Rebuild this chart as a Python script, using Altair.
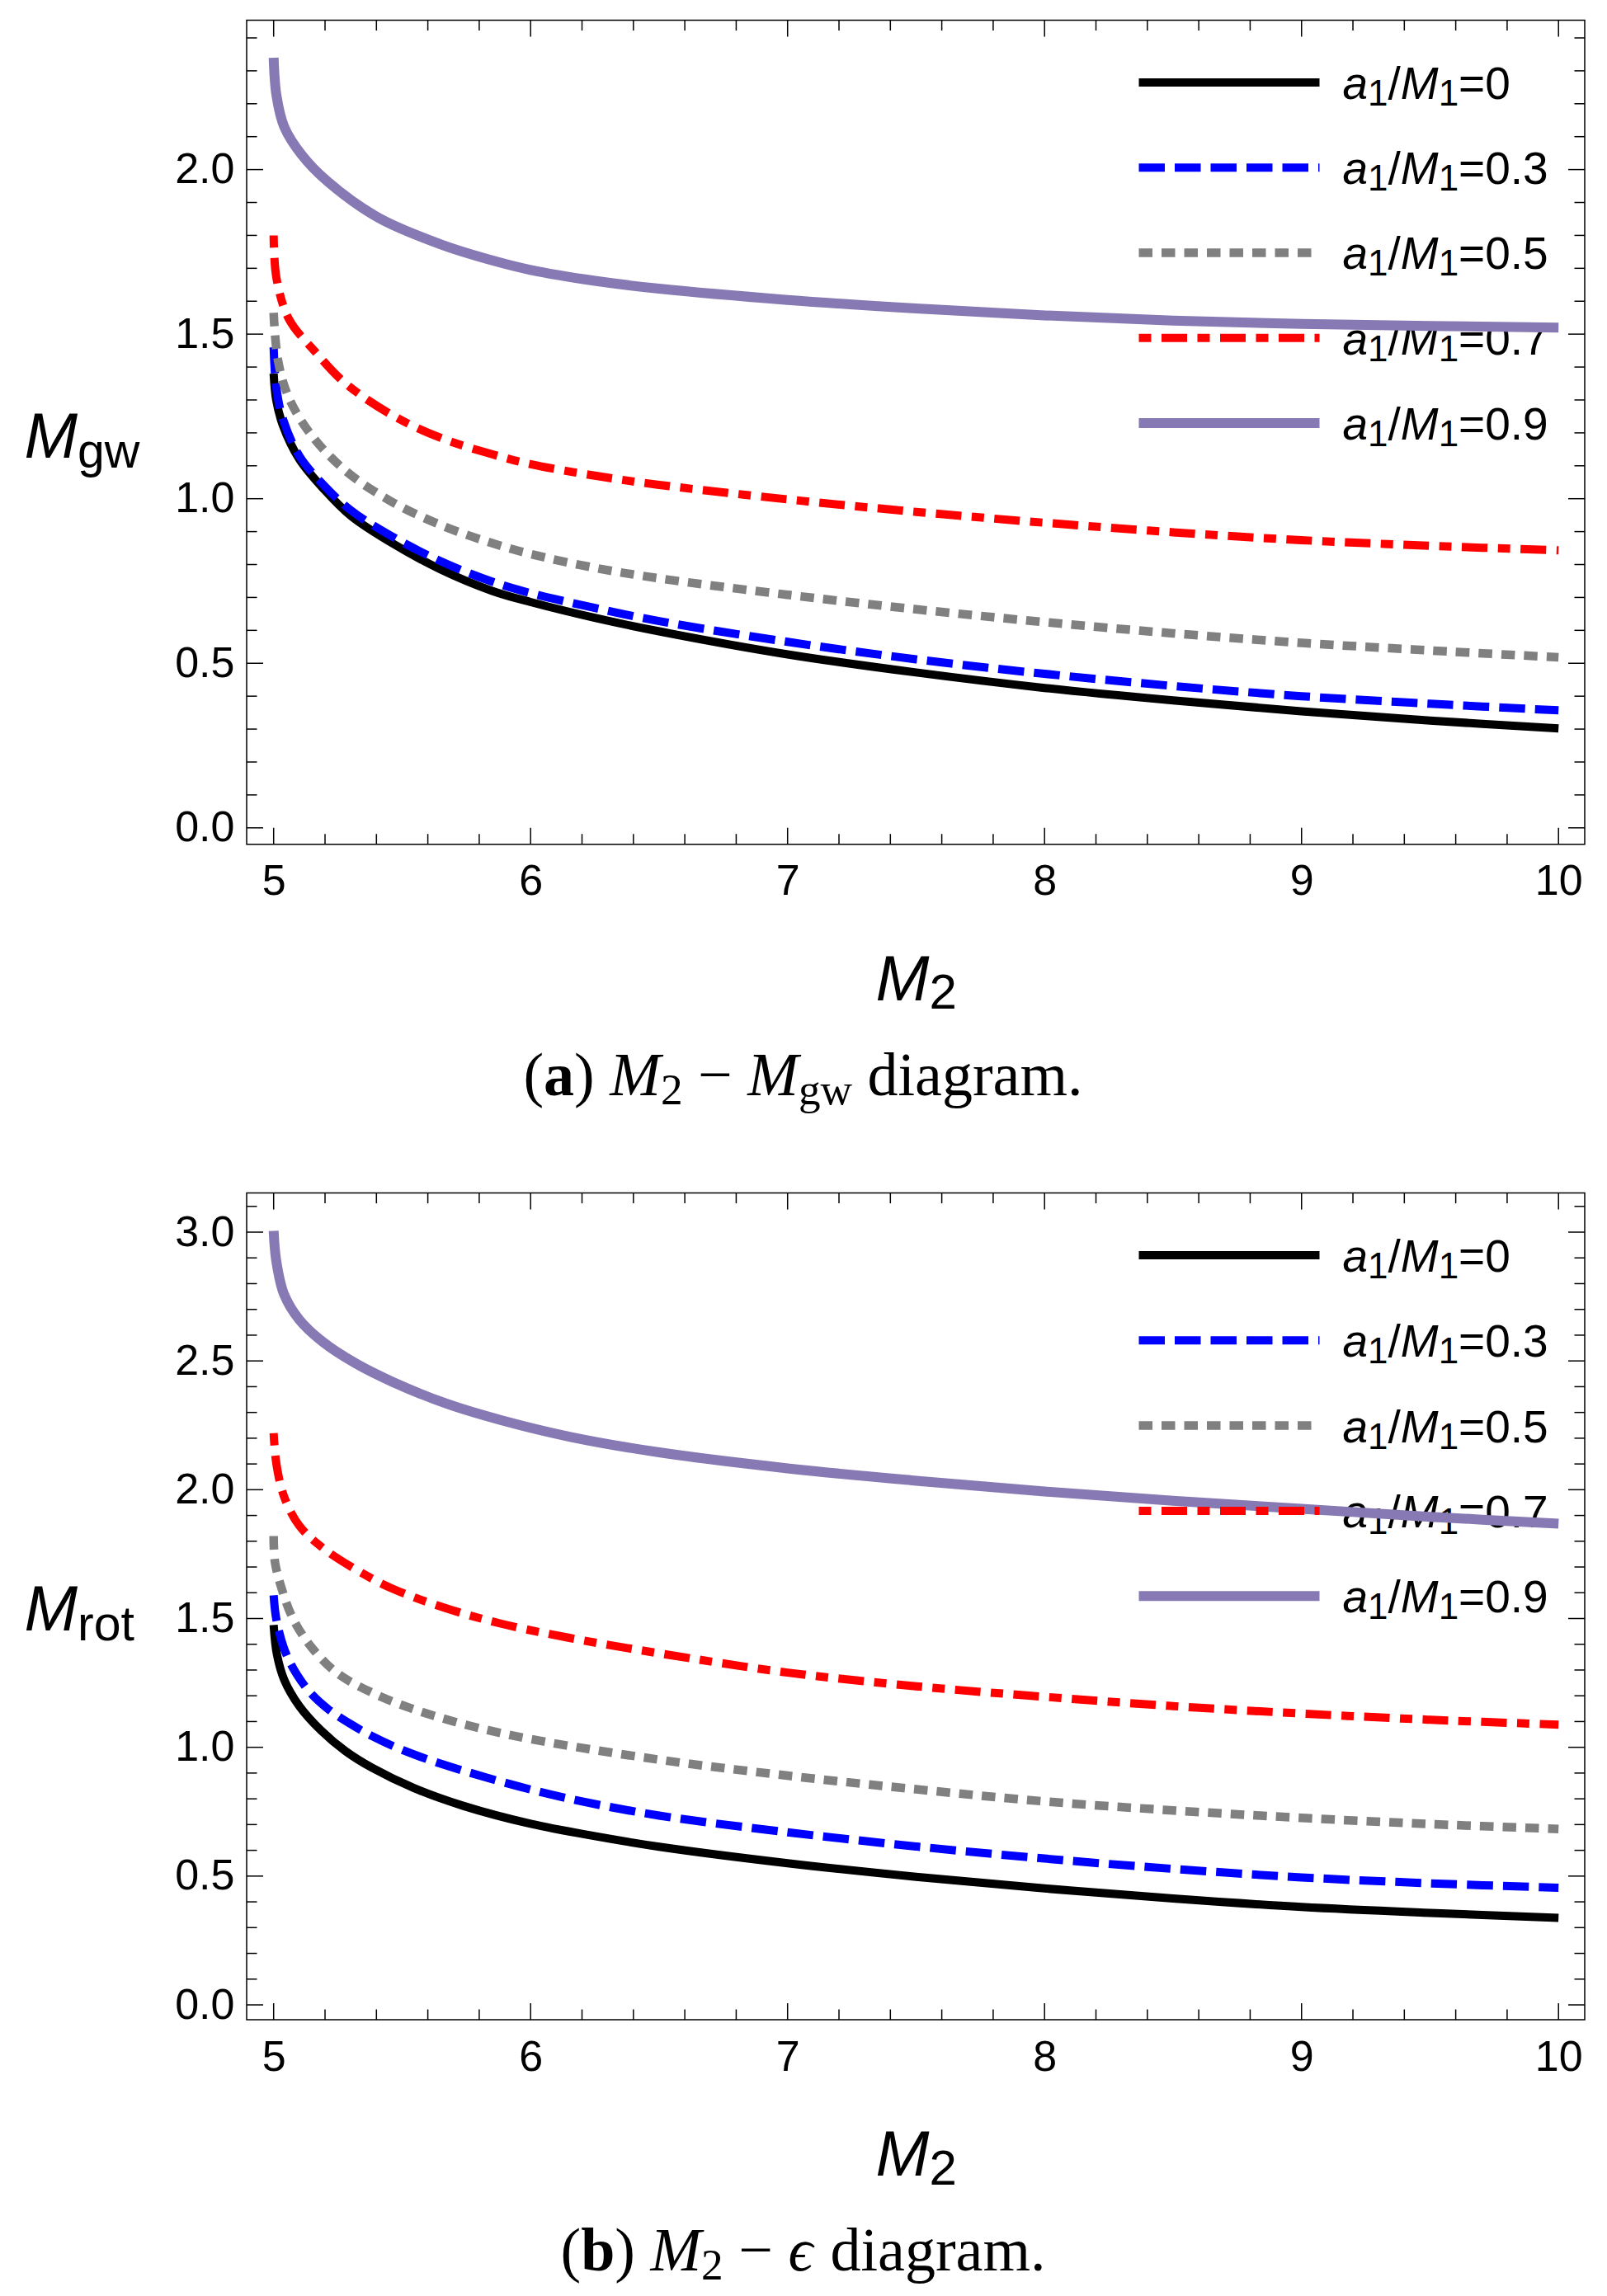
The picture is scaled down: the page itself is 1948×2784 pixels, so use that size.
import altair as alt
import pandas as pd

# ---------------- data ----------------
series_labels = ["=0", "=0.3", "=0.5", "=0.7", "=0.9"]
series_colors = ["#000000", "#0000ff", "#808080", "#ff0000", "#877ab4"]

# Panel (a): M2 - M_gw
gw_x0 = [5.0, 5.01, 5.035, 5.1, 5.2, 5.3, 5.45, 5.65, 5.85, 6.0, 6.25, 6.5, 7.0, 7.5, 8.0, 8.5, 9.0, 9.5, 10.0]
gw_y0 = [1.38, 1.30, 1.225, 1.12, 1.025, 0.948, 0.87, 0.785, 0.72, 0.686, 0.638, 0.597, 0.527, 0.472, 0.425, 0.387, 0.354, 0.326, 0.302]
gw_x3 = [5.0, 5.01, 5.035, 5.1, 5.2, 5.3, 5.45, 5.65, 5.85, 6.0, 6.25, 6.5, 7.0, 7.5, 8.0, 8.5, 9.0, 9.5, 10.0]
gw_y3 = [1.46, 1.34, 1.245, 1.13, 1.037, 0.965, 0.89, 0.81, 0.748, 0.713, 0.668, 0.628, 0.565, 0.512, 0.468, 0.431, 0.40, 0.377, 0.357]
gw_x5 = [5.0, 5.017, 5.06, 5.15, 5.28, 5.45, 5.65, 5.85, 6.0, 6.25, 6.5, 7.0, 7.5, 8.0, 8.5, 9.0, 9.5, 10.0]
gw_y5 = [1.565, 1.42, 1.305, 1.19, 1.085, 0.995, 0.92, 0.865, 0.832, 0.79, 0.758, 0.708, 0.664, 0.625, 0.591, 0.562, 0.539, 0.518]
gw_x7 = [5.0, 5.011, 5.06, 5.16, 5.28, 5.47, 5.65, 5.85, 6.0, 6.25, 6.5, 7.0, 7.5, 8.0, 8.5, 9.0, 9.5, 10.0]
gw_y7 = [1.80, 1.67, 1.545, 1.448, 1.35, 1.25, 1.185, 1.135, 1.105, 1.07, 1.042, 0.998, 0.96, 0.927, 0.898, 0.874, 0.857, 0.843]
gw_x9 = [5.0, 5.011, 5.041, 5.109, 5.208, 5.405, 5.653, 5.86, 6.0, 6.25, 6.5, 7.0, 7.5, 8.0, 8.5, 9.0, 9.5, 10.0]
gw_y9 = [2.34, 2.225, 2.13, 2.045, 1.965, 1.855, 1.772, 1.722, 1.695, 1.662, 1.638, 1.604, 1.578, 1.557, 1.541, 1.531, 1.525, 1.52]

# Panel (b): M2 - M_rot
rot_x0 = [5.0, 5.013, 5.042, 5.1, 5.185, 5.28, 5.384, 5.55, 5.74, 6.0, 6.25, 6.5, 7.0, 7.5, 8.0, 8.5, 9.0, 9.5, 10.0]
rot_y0 = [1.475, 1.36, 1.26, 1.16, 1.065, 0.985, 0.92, 0.84, 0.772, 0.703, 0.655, 0.614, 0.55, 0.497, 0.452, 0.413, 0.38, 0.357, 0.338]
rot_x3 = [5.0, 5.01, 5.04, 5.08, 5.14, 5.21, 5.3, 5.38, 5.5, 5.67, 5.954, 6.19, 6.5, 7.0, 7.5, 8.0, 8.5, 9.0, 9.5, 10.0]
rot_y3 = [1.59, 1.50, 1.385, 1.30, 1.215, 1.15, 1.09, 1.045, 0.99, 0.93, 0.848, 0.792, 0.735, 0.67, 0.615, 0.568, 0.528, 0.495, 0.472, 0.455]
rot_x5 = [5.0, 5.005, 5.03, 5.075, 5.15, 5.25, 5.39, 5.53, 5.75, 6.0, 6.5, 7.0, 7.5, 8.0, 8.5, 9.0, 9.5, 10.0]
rot_y5 = [1.82, 1.72, 1.62, 1.50, 1.385, 1.286, 1.209, 1.153, 1.087, 1.032, 0.952, 0.89, 0.837, 0.79, 0.755, 0.726, 0.702, 0.683]
rot_x7 = [5.0, 5.01, 5.04, 5.1, 5.19, 5.32, 5.46, 5.67, 5.885, 6.155, 6.5, 7.0, 7.5, 8.0, 8.5, 9.0, 9.5, 10.0]
rot_y7 = [2.22, 2.105, 1.975, 1.86, 1.775, 1.69, 1.617, 1.54, 1.48, 1.424, 1.365, 1.29, 1.237, 1.196, 1.16, 1.131, 1.107, 1.088]
rot_x9 = [5.0, 5.01, 5.04, 5.1, 5.19, 5.32, 5.46, 5.67, 5.885, 6.155, 6.5, 7.0, 7.5, 8.0, 8.5, 9.0, 9.5, 10.0]
rot_y9 = [3.005, 2.89, 2.76, 2.66, 2.575, 2.49, 2.42, 2.335, 2.27, 2.205, 2.145, 2.083, 2.035, 1.993, 1.957, 1.926, 1.895, 1.868]

x_major = [5, 6, 7, 8, 9, 10]
x_minor = [5.2, 5.4, 5.6, 5.8, 6.2, 6.4, 6.6, 6.8, 7.2, 7.4, 7.6, 7.8,
           8.2, 8.4, 8.6, 8.8, 9.2, 9.4, 9.6, 9.8]
gw_y_major = [0.0, 0.5, 1.0, 1.5, 2.0]
gw_y_minor = [0.1, 0.2, 0.3, 0.4, 0.6, 0.7, 0.8, 0.9, 1.1, 1.2, 1.3, 1.4,
              1.6, 1.7, 1.8, 1.9, 2.1, 2.2, 2.3, 2.4]
rot_y_major = [0.0, 0.5, 1.0, 1.5, 2.0, 2.5, 3.0]
rot_y_minor = [0.1, 0.2, 0.3, 0.4, 0.6, 0.7, 0.8, 0.9, 1.1, 1.2, 1.3, 1.4,
               1.6, 1.7, 1.8, 1.9, 2.1, 2.2, 2.3, 2.4, 2.6, 2.7, 2.8, 2.9, 3.1]

# ---------------- styling ----------------
SANS = "Liberation Sans"
SERIF = "Liberation Serif"
W = 1622
X_DOMAIN = [4.895, 10.102]
dashes = [None, [31.5, 12], [16.5, 11], [15, 12.5, 31, 12.5], None]
widths = [10, 10, 10.5, 10, 12]
dummy = pd.DataFrame({"k": [0]})


def txt(text, x, y, size, font=SANS, style="normal", weight="normal", line_height=None):
    kw = dict(text=text, font=font, fontSize=size, fontStyle=style, fontWeight=weight,
              align="left", baseline="alphabetic", color="black")
    if line_height is not None:
        kw["lineHeight"] = line_height
    return alt.Chart(dummy).mark_text(**kw).encode(x=alt.value(x), y=alt.value(y))


def run(pieces, x0, y0, fs):
    """pieces: (text, style, weight, size factor, dy, width in em) ; text None = gap"""
    out = []
    x = x0
    for text, style, weight, sf, dy, wem in pieces:
        if text is not None:
            out.append(txt(text, x, y0 + dy, fs * sf, font=SERIF, style=style, weight=weight))
        x += wem * fs * sf
    return out


def run_width(pieces, fs):
    return sum(p[5] * fs * p[3] for p in pieces)


def panel(xs_list, ys_list, ydom, H, ymaj, ymin, ysub, eps_caption):
    xsc = alt.Scale(domain=X_DOMAIN, nice=False, zero=False)
    ysc = alt.Scale(domain=ydom, nice=False, zero=False)
    xaxis = alt.Axis(values=x_major, format="d", title=None, ticks=False, tickSize=0,
                     domain=False, grid=False, labelFont=SANS, labelFontSize=52,
                     labelColor="black", labelPadding=20, labelFlush=False, labelOverlap=False)
    yaxis = alt.Axis(values=ymaj, format=".1f", title=None, ticks=False, tickSize=0,
                     domain=False, grid=False, labelFont=SANS, labelFontSize=52,
                     labelColor="black", labelPadding=15, labelOverlap=False)
    layers = []

    # frame ticks (inward, all four sides)
    tk = dict(color="black", strokeWidth=1.5)
    for vals, L in ((x_major, 20), (x_minor, 12.5)):
        d = pd.DataFrame({"t": vals})
        layers.append(alt.Chart(d).mark_rule(**tk).encode(
            x=alt.X("t:Q", scale=xsc, axis=xaxis), y=alt.value(H), y2=alt.value(H - L)))
        layers.append(alt.Chart(d).mark_rule(**tk).encode(
            x=alt.X("t:Q", scale=xsc, axis=xaxis), y=alt.value(0), y2=alt.value(L)))
    for vals, L in ((ymaj, 20), (ymin, 12.5)):
        d = pd.DataFrame({"t": vals})
        layers.append(alt.Chart(d).mark_rule(**tk).encode(
            y=alt.Y("t:Q", scale=ysc, axis=yaxis), x=alt.value(0), x2=alt.value(L)))
        layers.append(alt.Chart(d).mark_rule(**tk).encode(
            y=alt.Y("t:Q", scale=ysc, axis=yaxis), x=alt.value(W), x2=alt.value(W - L)))

    # legend text (columns, multi-line)
    rows = [75.4, 178.7, 282.0, 385.3, 488.6]
    lh = 103.3
    tx = 1328.5
    base = rows[0] + 20
    fs, sfs = 55, 44
    layers.append(txt(["a"] * 5, tx, base, fs, style="italic", line_height=lh))
    layers.append(txt(["1"] * 5, tx + 0.556 * fs, base + 8, sfs, line_height=lh))
    layers.append(txt(["/"] * 5, tx + 0.556 * fs + 0.556 * sfs, base, fs, line_height=lh))
    layers.append(txt(["M"] * 5, tx + 0.834 * fs + 0.556 * sfs, base, fs, style="italic", line_height=lh))
    layers.append(txt(["1"] * 5, tx + 1.667 * fs + 0.556 * sfs, base + 8, sfs, line_height=lh))
    layers.append(txt(series_labels, tx + 1.667 * fs + 1.112 * sfs, base, fs, line_height=lh))

    # curves
    for i in range(5):
        d = pd.DataFrame({"M2": xs_list[i], "val": ys_list[i]})
        mk = dict(color=series_colors[i], strokeWidth=widths[i], interpolate="catmull-rom",
                  strokeCap="butt", clip=True)
        if dashes[i] is not None:
            mk["strokeDash"] = dashes[i]
        layers.append(alt.Chart(d).mark_line(**mk).encode(
            x=alt.X("M2:Q", scale=xsc, axis=xaxis),
            y=alt.Y("val:Q", scale=ysc, axis=yaxis),
            order=alt.Order("M2:Q")))

    # legend sample lines
    for i in range(5):
        mk = dict(color=series_colors[i], strokeWidth=widths[i], strokeCap="butt")
        if dashes[i] is not None:
            mk["strokeDash"] = dashes[i]
        layers.append(alt.Chart(dummy).mark_rule(**mk).encode(
            x=alt.value(1081.5), x2=alt.value(1300.5), y=alt.value(rows[i])))

    # y axis title  M_sub
    layers.append(txt("M", -269.5, 530.5, 77.5, style="italic"))
    layers.append(txt(ysub, -269.5 + 0.833 * 77.5, 542, 59))
    # x axis title  M_2
    layers.append(txt("M", 762.5, H + 189.2, 78, style="italic"))
    layers.append(txt("2", 762.5 + 0.833 * 78, H + 199.7, 60))

    # caption
    CFS = 74
    S = 0.72
    n, it, b = "normal", "italic", "bold"
    pieces = [("(", n, n, 1, 0, 0.333),
              ("b" if eps_caption else "a", n, b, 1, 0, 0.556 if eps_caption else 0.5),
              (")", n, n, 1, 0, 0.333), (None, n, n, 1, 0, 0.25),
              ("M", it, n, 1, 0, 0.833), ("2", n, n, S, 11, 0.5), (None, n, n, 1, 0, 0.25),
              ("\u2212", n, n, 1, 0, 0.564), (None, n, n, 1, 0, 0.25)]
    if eps_caption:
        pieces += [("\u03f5", it, n, 1, 0, 0.44)]
    else:
        pieces += [("M", it, n, 1, 0, 0.833), ("gw", n, n, S, 11, 1.222)]
    pieces += [(None, n, n, 1, 0, 0.25), ("diagram.", n, n, 1, 0, 3.527)]
    total = run_width(pieces, CFS)
    x0 = 972 - 297.5 - total / 2
    layers += run(pieces, x0, H + 304, CFS)

    return alt.layer(*layers).properties(width=W, height=H)


top = panel([gw_x0, gw_x3, gw_x5, gw_x7, gw_x9], [gw_y0, gw_y3, gw_y5, gw_y7, gw_y9],
            [-0.0499, 2.4538], 999.2, gw_y_major, gw_y_minor, "gw", False)
bot = panel([rot_x0, rot_x3, rot_x5, rot_x7, rot_x9], [rot_y0, rot_y3, rot_y5, rot_y7, rot_y9],
            [-0.0576, 3.1518], 1002.4, rot_y_major, rot_y_minor, "rot", True)

chart = alt.vconcat(top, bot, spacing=422.1, bounds="flush").properties(
    padding={"left": 20, "top": 14.5, "right": 5, "bottom": 2}
).configure_view(stroke="black", strokeWidth=1.5)

chart.save("out.html", embed_options={"renderer": "svg", "actions": False})
